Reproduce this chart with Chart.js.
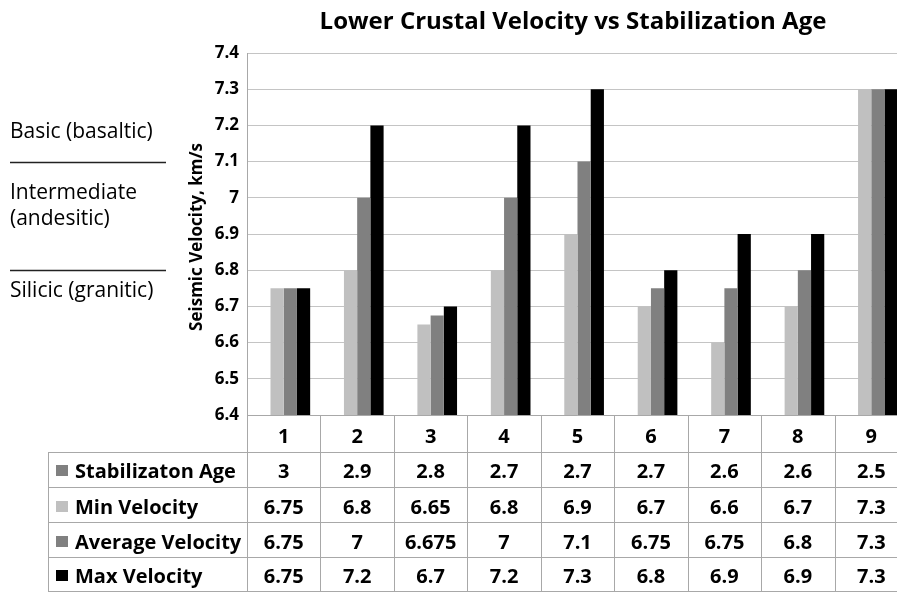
<!DOCTYPE html>
<html>
<head>
<meta charset="utf-8">
<script src="https://cdn.jsdelivr.net/npm/chart.js@4.4.0/dist/chart.umd.min.js"></script>
<style>
  html, body { margin: 0; padding: 0; background: #fff; overflow: hidden; }
  #wrap { width: 908px; height: 592px; }
</style>
</head>
<body>
<div id="wrap"><canvas id="grafico" width="908" height="592"></canvas></div>
<script>
const categorias = ['1', '2', '3', '4', '5', '6', '7', '8', '9'];
const edadEstabilizacion = [3, 2.9, 2.8, 2.7, 2.7, 2.7, 2.6, 2.6, 2.5];
const velMin = [6.75, 6.8, 6.65, 6.8, 6.9, 6.7, 6.6, 6.7, 7.3];
const velPromedio = [6.75, 7, 6.675, 7, 7.1, 6.75, 6.75, 6.8, 7.3];
const velMax = [6.75, 7.2, 6.7, 7.2, 7.3, 6.8, 6.9, 6.9, 7.3];
const nombresSeries = ['Stabilizaton Age', 'Min Velocity', 'Average Velocity', 'Max Velocity'];
const coloresSeries = ['#808080', '#c0c0c0', '#808080', '#000000'];
const ejeY = { min: 6.4, max: 7.4, paso: 0.1 };
const titulo = 'Lower Crustal Velocity vs Stabilization Age';
const tituloY = 'Seismic Velocity, km/s';
const notas = ['Basic (basaltic)', 'Intermediate', '(andesitic)', 'Silicic (granitic)'];

const FUENTE = '"Open Sans", Lato, sans-serif';
const colorLinea = '#a8a8a8';

const series = [edadEstabilizacion, velMin, velPromedio, velMax];

// textos y tabla de datos dibujados sobre el canvas
const extras = {
  id: 'extras',
  afterDraw(chart) {
    const ctx = chart.ctx;
    const area = chart.chartArea;
    const x = chart.scales.x;
    const n = categorias.length;
    const ancho = (area.right - area.left) / n;

    ctx.save();
    ctx.fillStyle = '#000';

    // titulo
    ctx.font = 'bold 24px ' + FUENTE;
    ctx.textAlign = 'center';
    ctx.textBaseline = 'alphabetic';
    ctx.fillText(titulo, 573, 29);

    // titulo eje y
    ctx.save();
    ctx.translate(197, 237);
    ctx.rotate(-Math.PI / 2);
    ctx.font = 'bold 17px ' + FUENTE;
    ctx.textBaseline = 'middle';
    ctx.fillText(tituloY, 0, 0);
    ctx.restore();

    // notas a la izquierda
    ctx.font = '21px ' + FUENTE;
    ctx.textAlign = 'left';
    ctx.textBaseline = 'middle';
    ctx.fillText(notas[0], 10, 132);
    ctx.fillText(notas[1], 10, 193);
    ctx.fillText(notas[2], 10, 219);
    ctx.fillText(notas[3], 10, 291);
    ctx.strokeStyle = '#222';
    ctx.lineWidth = 1.5;
    ctx.beginPath();
    ctx.moveTo(10, 162.5); ctx.lineTo(166, 162.5);
    ctx.moveTo(10, 270.5); ctx.lineTo(166, 270.5);
    ctx.stroke();

    // tabla
    const filas = [415, 452, 487, 522, 557, 591];
    const izq = 48;
    ctx.strokeStyle = colorLinea;
    ctx.lineWidth = 1;
    ctx.beginPath();
    ctx.moveTo(area.left, filas[0] + 0.5); ctx.lineTo(area.right, filas[0] + 0.5);
    for (let i = 1; i < filas.length; i++) {
      ctx.moveTo(izq, filas[i] + 0.5); ctx.lineTo(area.right, filas[i] + 0.5);
    }
    ctx.moveTo(izq + 0.5, filas[1]); ctx.lineTo(izq + 0.5, filas[5]);
    for (let k = 0; k <= n; k++) {
      const xx = Math.round(area.left + k * ancho) + 0.5;
      ctx.moveTo(xx, filas[0]); ctx.lineTo(xx, filas[5]);
    }
    ctx.stroke();

    ctx.fillStyle = '#000';
    ctx.textAlign = 'center';
    ctx.textBaseline = 'alphabetic';
    ctx.font = 'bold 20px ' + FUENTE;
    const bases = [443, 478, 514, 549, 583];
    categorias.forEach((c, i) => {
      ctx.fillText(c, x.getPixelForValue(i), bases[0]);
    });
    series.forEach((s, j) => {
      s.forEach((v, i) => {
        ctx.fillText(String(v), x.getPixelForValue(i), bases[j + 1]);
      });
    });

    ctx.textAlign = 'left';
    nombresSeries.forEach((nombre, j) => {
      ctx.fillStyle = coloresSeries[j];
      ctx.fillRect(56, bases[j + 1] - 13, 12, 11);
      ctx.fillStyle = '#000';
      ctx.fillText(nombre, 75, bases[j + 1]);
    });

    ctx.restore();
  }
};

const ctxGrafico = document.getElementById('grafico').getContext('2d');
new Chart(ctxGrafico, {
  type: 'bar',
  data: {
    labels: categorias,
    datasets: series.map((s, j) => ({
      label: nombresSeries[j],
      data: s,
      backgroundColor: coloresSeries[j],
      borderWidth: 0,
      categoryPercentage: 0.72,
      barPercentage: 1.0
    }))
  },
  options: {
    responsive: false,
    animation: false,
    devicePixelRatio: 1,
    layout: { padding: { top: 53, bottom: 177, left: 0, right: 0 } },
    plugins: {
      legend: { display: false },
      title: { display: false },
      tooltip: { enabled: false }
    },
    scales: {
      x: { display: false },
      y: {
        min: ejeY.min,
        max: ejeY.max,
        afterFit(scale) { scale.width = 247; },
        border: { display: true, color: colorLinea },
        grid: { color: '#c4c4c4', drawTicks: false },
        ticks: {
          stepSize: ejeY.paso,
          padding: 8,
          color: '#000',
          font: { family: FUENTE, size: 17, weight: 'bold' },
          callback: v => String(+(+v).toFixed(1))
        }
      }
    }
  },
  plugins: [extras]
});
</script>
</body>
</html>
